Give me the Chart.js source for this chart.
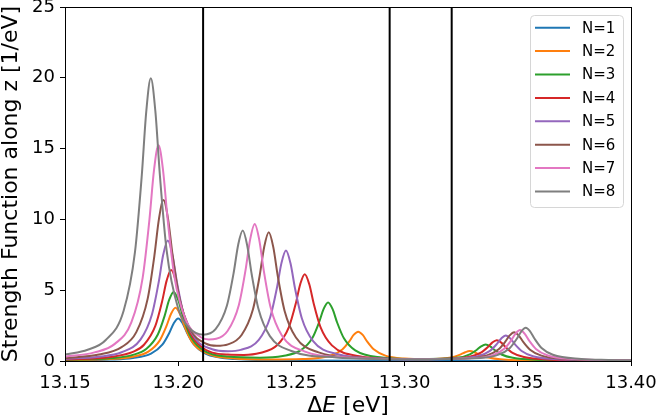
<!DOCTYPE html>
<html>
<head>
<meta charset="utf-8">
<script src="https://cdn.jsdelivr.net/npm/chart.js@4"></script>
<style>
  html, body { margin: 0; padding: 0; background: #fff; }
</style>
</head>
<body>
<canvas id="strengthChart" width="658" height="418"></canvas>
<script>
// values (energy in eV, strength in 1/eV)
const seriesLabels = ['N=1', 'N=2', 'N=3', 'N=4', 'N=5', 'N=6', 'N=7', 'N=8'];

const energyN1 = [13.15, 13.17, 13.18, 13.188, 13.193, 13.196, 13.198, 13.200, 13.202, 13.204, 13.207, 13.212, 13.225, 13.25, 13.30, 13.35, 13.40];
const strengthN1 = [0.04, 0.10, 0.21, 0.52, 1.15, 1.96, 2.65, 3.00, 2.65, 1.96, 1.15, 0.52, 0.14, 0.04, 0.01, 0.004, 0.002];

const energyN2 = [13.15, 13.17, 13.18, 13.1868, 13.1918, 13.1948, 13.1968, 13.1988, 13.2008, 13.2028, 13.2058, 13.2108, 13.225, 13.24, 13.255, 13.2675, 13.2725, 13.2755, 13.2775, 13.2795, 13.2815, 13.2835, 13.2865, 13.2915, 13.30, 13.31, 13.317, 13.322, 13.3248, 13.3268, 13.3288, 13.3308, 13.3328, 13.3358, 13.345, 13.36, 13.38, 13.40];
const strengthN2 = [0.05, 0.14, 0.30, 0.66, 1.44, 2.46, 3.32, 3.76, 3.32, 2.46, 1.44, 0.67, 0.18, 0.105, 0.14, 0.39, 0.81, 1.37, 1.84, 2.07, 1.84, 1.37, 0.81, 0.38, 0.17, 0.126, 0.17, 0.30, 0.47, 0.62, 0.70, 0.62, 0.46, 0.28, 0.087, 0.034, 0.017, 0.012];

const energyN3 = [13.15, 13.17, 13.18, 13.186, 13.191, 13.194, 13.196, 13.198, 13.200, 13.202, 13.205, 13.210, 13.222, 13.236, 13.2462, 13.2542, 13.2592, 13.2622, 13.2642, 13.2662, 13.2682, 13.2702, 13.2732, 13.2782, 13.29, 13.305, 13.3238, 13.3288, 13.3318, 13.3338, 13.3358, 13.3378, 13.3398, 13.3428, 13.3478, 13.36, 13.38, 13.40];
const strengthN3 = [0.074, 0.195, 0.43, 0.865, 1.875, 3.19, 4.31, 4.88, 4.31, 3.20, 1.89, 0.88, 0.31, 0.234, 0.354, 0.764, 1.61, 2.72, 3.66, 4.14, 3.66, 2.72, 1.60, 0.746, 0.24, 0.129, 0.243, 0.473, 0.777, 1.035, 1.166, 1.033, 0.773, 0.461, 0.222, 0.075, 0.032, 0.019];

const energyN4 = [13.15, 13.17, 13.18, 13.1849, 13.1899, 13.1929, 13.1949, 13.1969, 13.1989, 13.2009, 13.2039, 13.2089, 13.222, 13.229, 13.236, 13.2439, 13.2489, 13.2519, 13.2539, 13.2559, 13.2579, 13.2599, 13.2629, 13.2679, 13.28, 13.30, 13.3207, 13.3287, 13.3337, 13.3367, 13.3387, 13.3407, 13.3427, 13.3447, 13.3477, 13.3527, 13.365, 13.38, 13.40];
const strengthN4 = [0.104, 0.283, 0.644, 1.146, 2.477, 4.21, 5.675, 6.42, 5.68, 4.22, 2.50, 1.19, 0.451, 0.428, 0.559, 1.147, 2.394, 4.038, 5.424, 6.131, 5.418, 4.025, 2.37, 1.102, 0.34, 0.137, 0.156, 0.295, 0.587, 0.973, 1.30, 1.465, 1.297, 0.968, 0.577, 0.277, 0.092, 0.045, 0.026];

const energyN5 = [13.15, 13.165, 13.175, 13.1834, 13.1884, 13.1914, 13.1934, 13.1954, 13.1974, 13.1994, 13.2024, 13.2074, 13.215, 13.222, 13.2276, 13.2356, 13.2406, 13.2436, 13.2456, 13.2476, 13.2496, 13.2516, 13.2546, 13.2596, 13.27, 13.29, 13.31, 13.3247, 13.3327, 13.3377, 13.3407, 13.3427, 13.3447, 13.3467, 13.3487, 13.3517, 13.3567, 13.37, 13.385, 13.40];
const strengthN5 = [0.147, 0.303, 0.617, 1.523, 3.284, 5.582, 7.516, 8.507, 7.528, 5.608, 3.331, 1.609, 0.832, 0.689, 0.784, 1.50, 3.073, 5.155, 6.913, 7.808, 6.899, 5.128, 3.024, 1.41, 0.494, 0.174, 0.121, 0.178, 0.352, 0.714, 1.19, 1.592, 1.797, 1.59, 1.185, 0.704, 0.336, 0.103, 0.051, 0.033];

const energyN6 = [13.15, 13.165, 13.175, 13.1815, 13.1865, 13.1895, 13.1915, 13.1935, 13.1955, 13.1975, 13.2005, 13.2055, 13.212, 13.217, 13.222, 13.228, 13.233, 13.236, 13.238, 13.240, 13.242, 13.244, 13.247, 13.252, 13.262, 13.28, 13.30, 13.3284, 13.3364, 13.3414, 13.3444, 13.3464, 13.3484, 13.3504, 13.3524, 13.3554, 13.3604, 13.372, 13.386, 13.40];
const strengthN6 = [0.211, 0.454, 0.978, 2.036, 4.39, 7.458, 10.04, 11.365, 10.06, 7.50, 4.466, 2.18, 1.249, 1.07, 1.171, 1.839, 3.633, 6.036, 8.067, 9.10, 8.042, 5.984, 3.538, 1.66, 0.606, 0.224, 0.13, 0.194, 0.394, 0.806, 1.348, 1.805, 2.038, 1.803, 1.344, 0.798, 0.38, 0.129, 0.064, 0.041];

const energyN7 = [13.15, 13.163, 13.172, 13.1793, 13.1843, 13.1873, 13.1893, 13.1913, 13.1933, 13.1953, 13.1983, 13.2033, 13.210, 13.2135, 13.2168, 13.2218, 13.2268, 13.2298, 13.2318, 13.2338, 13.2358, 13.2378, 13.2408, 13.2458, 13.256, 13.275, 13.30, 13.331, 13.339, 13.344, 13.347, 13.349, 13.351, 13.353, 13.355, 13.358, 13.363, 13.375, 13.388, 13.40];
const strengthN7 = [0.305, 0.608, 1.209, 2.721, 5.876, 9.992, 13.458, 15.237, 13.487, 10.051, 5.982, 2.923, 1.681, 1.52, 1.567, 2.119, 3.959, 6.473, 8.604, 9.682, 8.558, 6.38, 3.791, 1.798, 0.66, 0.241, 0.128, 0.204, 0.419, 0.861, 1.442, 1.931, 2.181, 1.929, 1.439, 0.854, 0.406, 0.135, 0.07, 0.047];

const energyN8 = [13.15, 13.16, 13.168, 13.1759, 13.1809, 13.1839, 13.1859, 13.1879, 13.1899, 13.1919, 13.1949, 13.1999, 13.205, 13.211, 13.2165, 13.2215, 13.2245, 13.2265, 13.2285, 13.2305, 13.2325, 13.2355, 13.2405, 13.25, 13.27, 13.30, 13.3335, 13.3415, 13.3465, 13.3495, 13.3515, 13.3535, 13.3555, 13.3575, 13.3605, 13.3655, 13.378, 13.39, 13.40];
const strengthN8 = [0.453, 0.798, 1.481, 3.543, 7.681, 13.082, 17.628, 19.961, 17.659, 13.145, 7.795, 3.763, 2.317, 1.861, 2.25, 3.901, 6.23, 8.213, 9.21, 8.144, 6.089, 3.647, 1.759, 0.704, 0.251, 0.124, 0.214, 0.448, 0.925, 1.553, 2.081, 2.351, 2.08, 1.55, 0.918, 0.438, 0.14, 0.076, 0.054];

// the three black vertical markers
const markerEnergies = [13.211, 13.2934, 13.3208];

const seriesColors = ['#1f77b4', '#ff7f0e', '#2ca02c', '#d62728', '#9467bd', '#8c564b', '#e377c2', '#7f7f7f'];

const energies = [energyN1, energyN2, energyN3, energyN4, energyN5, energyN6, energyN7, energyN8];
const strengths = [strengthN1, strengthN2, strengthN3, strengthN4, strengthN5, strengthN6, strengthN7, strengthN8];

const curveSets = seriesLabels.map((label, i) => ({
  label: label,
  data: energies[i].map((x, k) => ({ x: x, y: strengths[i][k] })),
  borderColor: seriesColors[i],
  backgroundColor: seriesColors[i],
  borderWidth: 2,
  pointRadius: 0,
  fill: false,
  cubicInterpolationMode: 'monotone',
  order: seriesLabels.length - i + 1
}));

const markerSets = markerEnergies.map((e) => ({
  label: '',
  isMarker: true,
  data: [{ x: e, y: 0 }, { x: e, y: 25 }],
  borderColor: '#000',
  borderWidth: 2,
  pointRadius: 0,
  fill: false,
  order: 0
}));

// box around the plot, drawn over the curves like matplotlib spines
const framePlugin = {
  id: 'frame',
  afterDatasetsDraw(chart) {
    const { ctx, chartArea: a } = chart;
    ctx.save();
    ctx.strokeStyle = '#000';
    ctx.lineWidth = 1;
    ctx.strokeRect(Math.round(a.left) + 0.5, Math.round(a.top) + 0.5,
      Math.round(a.right - a.left), Math.round(a.bottom - a.top));
    ctx.restore();
  }
};

// legend inside the plot, upper right
const boxLegend = {
  id: 'boxLegend',
  afterDraw(chart) {
    const { ctx, chartArea: a } = chart;
    const sets = chart.data.datasets.filter(d => !d.isMarker);
    const rowH = 23.4, w = 93, h = 192;
    const x0 = a.right - 8 - w, y0 = a.top + 8;
    ctx.save();
    ctx.beginPath();
    ctx.roundRect(x0 + 0.5, y0 + 0.5, w, h, 4);
    ctx.fillStyle = 'rgba(255,255,255,0.8)';
    ctx.fill();
    ctx.strokeStyle = '#d6d6d6';
    ctx.lineWidth = 1;
    ctx.stroke();
    ctx.font = '15px "DejaVu Sans"';
    ctx.textBaseline = 'middle';
    sets.forEach((d, i) => {
      const y = y0 + 12.7 + i * rowH;
      ctx.strokeStyle = d.borderColor;
      ctx.lineWidth = 2;
      ctx.beginPath();
      ctx.moveTo(x0 + 5, y);
      ctx.lineTo(x0 + 40, y);
      ctx.stroke();
      ctx.fillStyle = '#000';
      ctx.fillText(d.label, x0 + 52, y + 1);
    });
    ctx.restore();
  }
};

// x label with italic E
const xTitle = {
  id: 'xTitle',
  afterDraw(chart) {
    const { ctx, chartArea: a } = chart;
    const parts = [['Δ', ''], ['E', 'italic '], [' [eV]', '']];
    ctx.save();
    ctx.fillStyle = '#000';
    ctx.textBaseline = 'alphabetic';
    let total = 0;
    parts.forEach(p => { ctx.font = p[1] + '22px "DejaVu Sans"'; total += ctx.measureText(p[0]).width; });
    let x = (a.left + a.right) / 2 - total / 2;
    parts.forEach(p => {
      ctx.font = p[1] + '22px "DejaVu Sans"';
      ctx.fillText(p[0], x, 412);
      x += ctx.measureText(p[0]).width;
    });
    ctx.restore();
  }
};

Chart.defaults.font.family = '"DejaVu Sans"';
Chart.defaults.font.size = 18;
Chart.defaults.color = '#000';

new Chart(document.getElementById('strengthChart'), {
  type: 'line',
  data: { datasets: curveSets.concat(markerSets) },
  options: {
    responsive: false,
    devicePixelRatio: 1,
    animation: false,
    layout: { padding: { left: 0, right: 27, top: 7, bottom: 0 } },
    plugins: { legend: { display: false }, tooltip: { enabled: false } },
    scales: {
      x: {
        type: 'linear',
        min: 13.15,
        max: 13.40,
        border: { display: false },
        grid: { drawOnChartArea: false, drawTicks: true, tickLength: 5, color: '#000' },
        ticks: { stepSize: 0.05, padding: 7, maxRotation: 0, callback: v => v.toFixed(2) },
        afterFit: s => { s.height = 57; s.paddingLeft = 0; s.paddingRight = 0; }
      },
      y: {
        min: 0,
        max: 25,
        border: { display: false },
        grid: { drawOnChartArea: false, drawTicks: true, tickLength: 5, color: '#000' },
        ticks: { stepSize: 5, padding: 5 },
        title: {
          display: true,
          text: 'Strength Function along z [1/eV]',
          font: { size: 22, lineHeight: 1 },
          padding: { top: 0, bottom: 0 }
        },
        afterFit: s => { s.width = 65; s.paddingTop = 0; s.paddingBottom = 0; }
      }
    }
  },
  plugins: [framePlugin, boxLegend, xTitle]
});
</script>
</body>
</html>
